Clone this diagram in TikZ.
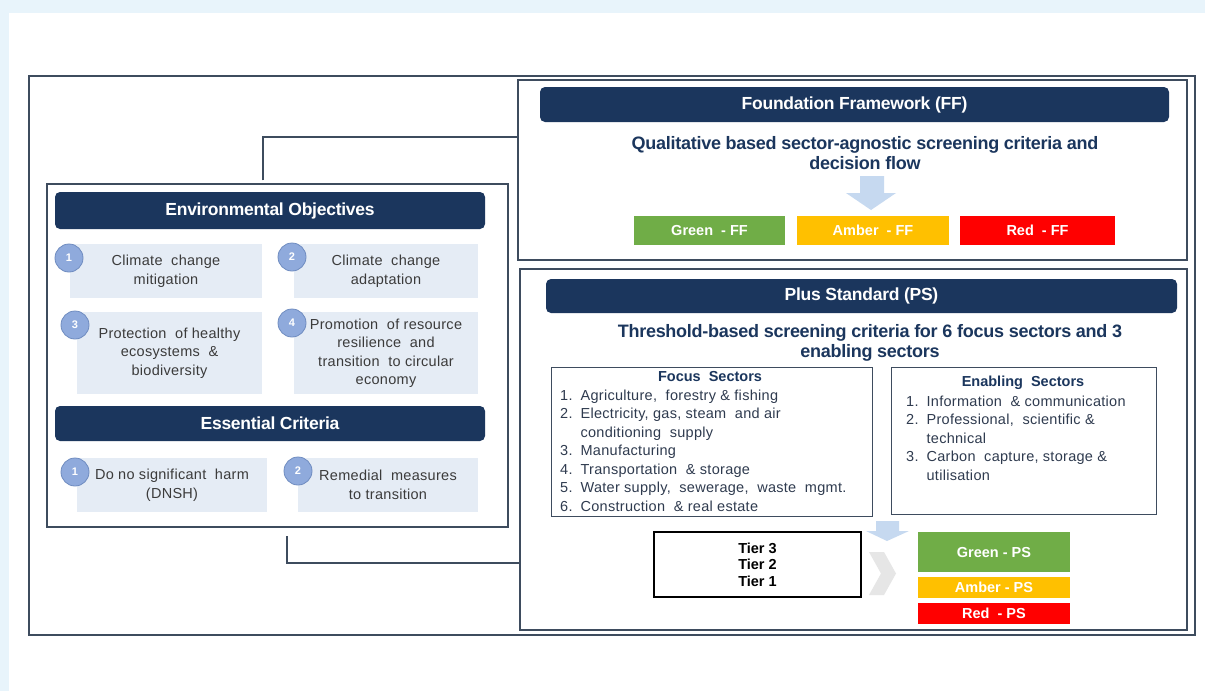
\documentclass[tikz,border=0pt]{standalone}
\usepackage{fontspec}
\setmainfont{Liberation Sans}
\newfontfamily\tightbf[LetterSpace=-1.5]{Liberation Sans}
\newfontfamily\widereg[LetterSpace=2]{Liberation Sans}
\definecolor{bgblue}{HTML}{E8F4FB}
\definecolor{navy}{HTML}{1B365D}
\definecolor{frame}{HTML}{3E4C5E}
\definecolor{tilefill}{HTML}{E5ECF5}
\definecolor{circfill}{HTML}{8FAADC}
\definecolor{circline}{HTML}{6F8CC0}
\definecolor{bodytext}{HTML}{3B3B3B}
\definecolor{listtext}{HTML}{2F3B4F}
\definecolor{arrowblue}{HTML}{C6D9F0}
\definecolor{chev}{HTML}{E6E6E6}
\definecolor{cgreen}{HTML}{70AD47}
\definecolor{camber}{HTML}{FFC000}
\definecolor{cred}{HTML}{FF0000}
\tikzset{
  framebox/.style={draw=frame, line width=1.2pt, inner sep=0pt},
  header/.style={fill=navy, rounded corners=5pt, inner sep=0pt, text=white,
    font=\tightbf\bfseries\fontsize{17.5}{20}\selectfont},
  tile/.style={fill=tilefill, inner sep=0pt, align=center, text=bodytext,
    font=\widereg\fontsize{14.5}{18.5}\selectfont},
  num/.style={circle, fill=circfill, draw=circline, line width=0.8pt, minimum size=28pt,
    inner sep=0pt, text=white, font=\bfseries\fontsize{11}{12}\selectfont},
  subtitle/.style={align=center, text=navy, inner sep=0pt,
    font=\tightbf\bfseries\fontsize{18}{20.5}\selectfont},
  rating/.style={inner sep=0pt, text=white, font=\bfseries\fontsize{14.5}{16}\selectfont},
  listbox/.style={draw=frame, line width=0.9pt, inner sep=0pt},
  listtitle/.style={text=navy, inner sep=0pt, font=\bfseries\fontsize{14.5}{16}\selectfont},
  list/.style={text=listtext, inner sep=0pt, anchor=base west, font=\widereg\fontsize{14.5}{18.5}\selectfont},
  link/.style={draw=frame, line width=1.2pt},
}
\begin{document}
\begin{tikzpicture}[x=1pt,y=-1pt]
\useasboundingbox (0,0) rectangle (1205,691);
\fill[bgblue] (0,0) rectangle (1205,691);
\fill[white] (9,13) rectangle (1205,691);

% frames
\node[framebox, minimum width=1166pt, minimum height=559pt] (outer) at (612,355.5) {};
\node[framebox, minimum width=461pt, minimum height=343pt] (env) at (277.5,355.5) {};
\node[framebox, minimum width=669pt, minimum height=180pt] (ff) at (852.5,170) {};
\node[framebox, minimum width=667pt, minimum height=361pt] (ps) at (853.5,449.5) {};

% connectors
\coordinate (ca) at (263,137);
\coordinate (cb) at (287,536);
\coordinate (cc) at (287,563);
\draw[link] ([yshift=3pt]env.north -| ca) |- (ff.west |- ca);
\draw[link] (cb) |- (ps.west |- cc);

% left panel
\node[header, minimum width=430pt, minimum height=37pt] (envhead) at (270,210.5) {Environmental Objectives};
\node[tile, minimum width=192pt, minimum height=54pt] (t1) at (166,271) {Climate\ \ change\\mitigation};
\node[tile, minimum width=184pt, minimum height=54pt] (t2) at (386,271) {Climate\ \ change\\adaptation};
\node[tile, minimum width=185pt, minimum height=82pt] (t3) at (169.5,353) {Protection\ \ of healthy\\ecosystems\ \ \&\\biodiversity};
\node[tile, minimum width=184pt, minimum height=82pt] (t4) at (386,353) {Promotion\ \ of resource\\resilience\ \ and\\transition\ \ to circular\\economy};
\node[num] (n1) at (69,258) {1};
\node[num] (n2) at (292,257) {2};
\node[num] (n3) at (75,325) {3};
\node[num] (n4) at (292,323) {4};

\node[header, minimum width=430pt, minimum height=35pt] (esshead) at (270,423.5) {Essential Criteria};
\node[tile, minimum width=190pt, minimum height=54pt] (e1) at (172,485) {Do no significant\ \ harm\\(DNSH)};
\node[tile, minimum width=180pt, minimum height=54pt] (e2) at (388,485) {Remedial\ \ measures\\to transition};
\node[num] (m1) at (75,472) {1};
\node[num] (m2) at (298,471) {2};

% foundation framework
\node[header, minimum width=629pt, minimum height=35pt] (ffhead) at (854.5,104.5) {Foundation Framework (FF)};
\node[subtitle] (ffsub) at (865,153) {Qualitative based sector-agnostic screening criteria and\\decision flow};
\fill[arrowblue] (860,176) -- (884,176) -- (884,193) -- (896,193) -- (871,210) -- (846,193) -- (860,193) -- cycle;
\node[rating, fill=cgreen, minimum width=151pt, minimum height=29pt] (ffg) at (709.5,230.5) {Green\ \ -\ FF};
\node[rating, fill=camber, minimum width=152pt, minimum height=29pt] (ffa) at (873,230.5) {Amber\ \ -\ FF};
\node[rating, fill=cred, minimum width=155pt, minimum height=29pt] (ffr) at (1037.5,230.5) {Red\ \ -\ FF};

% plus standard
\node[header, minimum width=631pt, minimum height=34pt] (pshead) at (861.5,296) {Plus Standard (PS)};
\node[subtitle] (pssub) at (870,343) {Threshold-based screening criteria for 6 focus sectors and 3\\enabling sectors};

\node[listbox, minimum width=321pt, minimum height=149pt] (focus) at (711.5,441.5) {};
\node[listtitle] (focust) at (710,377) {Focus\ \ Sectors};
\node[list] (focusl) at (560,400) {\begin{tabular}[t]{@{}l@{\hspace{8pt}}l@{}}
1. & Agriculture,\ \ forestry \& fishing\\
2. & Electricity,\ gas,\ steam\ \ and\ air\\
   & conditioning\ \ supply\\
3. & Manufacturing\\
4. & Transportation\ \ \& storage\\
5. & Water supply,\ \ sewerage,\ \ waste\ \ mgmt.\\
6. & Construction\ \ \& real estate
\end{tabular}};

\node[listbox, minimum width=265pt, minimum height=147pt] (enab) at (1023.5,440.5) {};
\node[listtitle] (enabt) at (1023,383) {Enabling\ \ Sectors};
\node[list] (enabl) at (906,406) {\begin{tabular}[t]{@{}l@{\hspace{8pt}}l@{}}
1. & Information\ \ \& communication\\
2. & Professional,\ \ scientific \&\\
   & technical\\
3. & Carbon\ \ capture,\ storage \&\\
   & utilisation
\end{tabular}};

\fill[arrowblue] (876,521) -- (899,521) -- (899,531) -- (909,531) -- (887,541) -- (866,531) -- (876,531) -- cycle;
\fill[chev] (869,552) -- (884,552) -- (896,573.5) -- (884,595) -- (869,595) -- (881,573.5) -- cycle;

\node[draw=black, line width=1.2pt, minimum width=207pt, minimum height=65pt, inner sep=0pt,
  align=center, font=\bfseries\fontsize{14.5}{16.5}\selectfont] (tier) at (757.5,564.5) {Tier 3\\Tier 2\\Tier 1};

\node[rating, fill=cgreen, minimum width=152pt, minimum height=40pt] (psg) at (994,552) {Green - PS};
\node[rating, fill=camber, minimum width=152pt, minimum height=21pt] (psa) at (994,587.5) {Amber - PS};
\node[rating, fill=cred, minimum width=152pt, minimum height=21pt] (psr) at (994,613.5) {Red\ \ - PS};
\end{tikzpicture}
\end{document}
